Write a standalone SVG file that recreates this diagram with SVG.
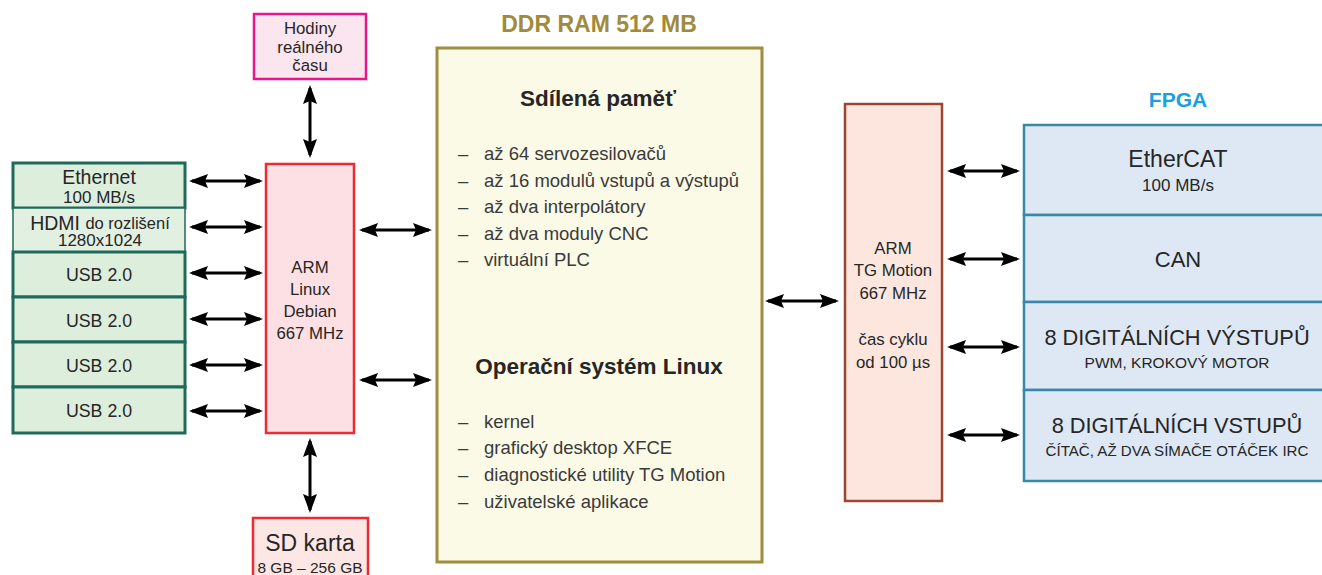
<svg xmlns="http://www.w3.org/2000/svg" width="1322" height="575" viewBox="0 0 1322 575">
<defs>
<style>
text{font-family:"Liberation Sans",Arial,sans-serif;fill:#262626;text-anchor:middle;dominant-baseline:central}
.lg rect{fill:#ddeedd;stroke:#1e6b5c;stroke-width:3}
.lg rect.thin{stroke-width:1.5;fill:#e2f0e2}
.arm rect{fill:#fce0e4;stroke:#ee2a34;stroke-width:2.5}
.sd rect{fill:#fde7e4;stroke:#ee2a34;stroke-width:2.5}
.rtc rect{fill:#fbe5ef;stroke:#e8168a;stroke-width:2.5}
.ddr rect{fill:#fafae6;stroke:#a08e3e;stroke-width:3}
.tg rect{fill:#fce6de;stroke:#9c4632;stroke-width:2.5}
.fp rect{fill:#dde8f4;stroke:#3a88a8;stroke-width:2.5}
.li{font-size:18.5px;text-anchor:start;fill:#3a3a3a}
.hd{font-size:22.5px;font-weight:bold}
.conn line{stroke:#000;stroke-width:3;marker-start:url(#ah);marker-end:url(#ah)}
</style>
<marker id="ah" markerUnits="userSpaceOnUse" markerWidth="19" markerHeight="16" refX="16" refY="8" orient="auto-start-reverse" viewBox="0 0 19 16">
<path d="M0,1 L19,8 L0,15 L3,8 Z" fill="#000"/>
</marker>
</defs>

<text x="599" y="24" style="font-size:23px;font-weight:bold;fill:#a08b3c">DDR RAM 512 MB</text>
<text x="1178" y="99" style="font-size:21px;font-weight:bold;fill:#1aa0e0">FPGA</text>

<g id="ethernet" class="lg"><rect x="13" y="163" width="172" height="45"/><text x="99" y="177" font-size="19.5">Ethernet</text><text x="99" y="197" font-size="17">100 MB/s</text></g>
<g id="hdmi" class="lg"><rect class="thin" x="13" y="208" width="172" height="44"/><text x="100" y="223"><tspan font-size="19.5">HDMI </tspan><tspan font-size="16.5">do rozlišení</tspan></text><text x="100" y="240" font-size="17">1280x1024</text></g>
<g id="usb1" class="lg"><rect x="13" y="252" width="172" height="45"/><text x="99" y="275" font-size="17.8">USB 2.0</text></g>
<g id="usb2" class="lg"><rect x="13" y="297" width="172" height="45"/><text x="99" y="321" font-size="17.8">USB 2.0</text></g>
<g id="usb3" class="lg"><rect x="13" y="342" width="172" height="45"/><text x="99" y="366" font-size="17.8">USB 2.0</text></g>
<g id="usb4" class="lg"><rect x="13" y="387" width="172" height="46"/><text x="99" y="411" font-size="17.8">USB 2.0</text></g>

<g id="rtc" class="rtc"><rect x="254" y="14" width="112" height="65"/><text x="310" y="28" font-size="16.8">Hodiny</text><text x="310" y="47" font-size="16.8">reálného</text><text x="310" y="65" font-size="16.8">času</text></g>

<g id="armlinux" class="arm"><rect x="266" y="164" width="88" height="269"/>
<text x="310" y="267" font-size="16.8">ARM</text><text x="310" y="289" font-size="16.8">Linux</text><text x="310" y="311" font-size="16.8">Debian</text><text x="310" y="333" font-size="16.8">667 MHz</text></g>

<g id="sdkarta" class="sd"><rect x="253" y="518" width="115" height="62"/><text x="310" y="543" font-size="23">SD karta</text><text x="310" y="567" font-size="15.5">8 GB – 256 GB</text></g>

<g id="ddr" class="ddr"><rect x="437" y="48" width="325" height="514"/>
<text x="598" y="98" class="hd">Sdílená paměť</text>
<text class="li" x="458" y="153">–</text><text class="li" x="484" y="153">až 64 servozesilovačů</text>
<text class="li" x="458" y="180">–</text><text class="li" x="484" y="180">až 16 modulů vstupů a výstupů</text>
<text class="li" x="458" y="206">–</text><text class="li" x="484" y="206">až dva interpolátory</text>
<text class="li" x="458" y="233">–</text><text class="li" x="484" y="233">až dva moduly CNC</text>
<text class="li" x="458" y="259">–</text><text class="li" x="484" y="259">virtuální PLC</text>
<text x="599" y="366" class="hd">Operační systém Linux</text>
<text class="li" x="458" y="421">–</text><text class="li" x="484" y="421">kernel</text>
<text class="li" x="458" y="447">–</text><text class="li" x="484" y="447">grafický desktop XFCE</text>
<text class="li" x="458" y="474">–</text><text class="li" x="484" y="474">diagnostické utility TG Motion</text>
<text class="li" x="458" y="501">–</text><text class="li" x="484" y="501">uživatelské aplikace</text>
</g>

<g id="armtg" class="tg"><rect x="845" y="104" width="97" height="397"/>
<text x="893" y="248" font-size="16.8">ARM</text><text x="893" y="270" font-size="16.8">TG Motion</text><text x="893" y="293" font-size="16.8">667 MHz</text><text x="893" y="339" font-size="16.8">čas cyklu</text><text x="893" y="362" font-size="16.8">od 100 µs</text></g>

<g id="ethercat" class="fp"><rect x="1024" y="125" width="310" height="90"/><text x="1178" y="159" font-size="23">EtherCAT</text><text x="1178" y="185" font-size="17">100 MB/s</text></g>
<g id="can" class="fp"><rect x="1024" y="215" width="310" height="87"/><text x="1178" y="259" font-size="22">CAN</text></g>
<g id="dout" class="fp"><rect x="1024" y="302" width="310" height="88"/><text x="1177" y="337" font-size="21.8">8 DIGITÁLNÍCH VÝSTUPŮ</text><text x="1177" y="362" font-size="15.5">PWM, KROKOVÝ MOTOR</text></g>
<g id="din" class="fp"><rect x="1024" y="390" width="310" height="91"/><text x="1177" y="425" font-size="21.8">8 DIGITÁLNÍCH VSTUPŮ</text><text x="1177" y="450" font-size="15.1">ČÍTAČ, AŽ DVA SÍMAČE OTÁČEK IRC</text></g>

<g id="connectors" class="conn">
<line x1="192" y1="181" x2="260" y2="181"/>
<line x1="192" y1="227" x2="260" y2="227"/>
<line x1="192" y1="273" x2="260" y2="273"/>
<line x1="192" y1="319" x2="260" y2="319"/>
<line x1="192" y1="365" x2="260" y2="365"/>
<line x1="192" y1="411" x2="260" y2="411"/>
<line x1="310" y1="88" x2="310" y2="155"/>
<line x1="310" y1="441" x2="310" y2="510"/>
<line x1="362" y1="230" x2="429" y2="230"/>
<line x1="362" y1="380" x2="429" y2="380"/>
<line x1="768" y1="301" x2="836" y2="301"/>
<line x1="950" y1="171" x2="1017" y2="171"/>
<line x1="950" y1="259" x2="1017" y2="259"/>
<line x1="950" y1="347" x2="1017" y2="347"/>
<line x1="950" y1="435" x2="1017" y2="435"/>
</g>
</svg>
